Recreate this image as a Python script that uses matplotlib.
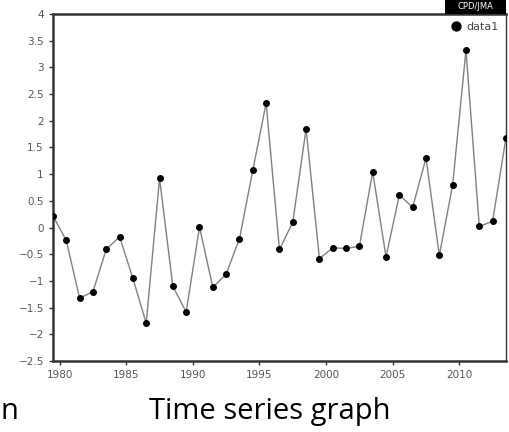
import numpy as np
import matplotlib
matplotlib.use("Agg")
import matplotlib.pyplot as plt
from matplotlib.patches import Rectangle

# yearly values (plotted at mid-year)
years = np.arange(1979, 2014) + 0.5
values = [0.22, -0.24, -1.32, -1.20, -0.41, -0.17, -0.95, -1.79, 0.92, -1.10,
          -1.58, 0.01, -1.12, -0.87, -0.21, 1.07, 2.33, -0.41, 0.10, 1.85,
          -0.58, -0.38, -0.39, -0.35, 1.04, -0.55, 0.61, 0.38, 1.30, -0.52,
          0.80, 3.32, 0.02, 0.12, 1.68]
xticks = [1980, 1985, 1990, 1995, 2000, 2005, 2010]
yticks = [-2.5, -2, -1.5, -1, -0.5, 0, 0.5, 1, 1.5, 2, 2.5, 3, 3.5, 4]

fig = plt.figure(figsize=(5.09, 4.32), dpi=100)
ax = fig.add_axes([0.104, 0.164, 0.890, 0.804])

ax.plot(years, values, color="#808080", lw=1.0, zorder=2)
ax.plot(years, values, "o", color="black", ms=4, label="data1", zorder=3)

ax.set_xlim(1979.5, 2013.5)
ax.set_ylim(-2.5, 4)
ax.set_xticks(xticks)
ax.set_yticks(yticks)
ax.set_yticklabels([f"{t:g}".replace("-", "\u2212") for t in yticks])
ax.tick_params(direction="out", length=3, width=1, colors="#333333",
               labelsize=7.5, labelcolor="#555555")

for side in ["left", "top", "bottom"]:
    ax.spines[side].set_linewidth(1.8)
    ax.spines[side].set_color("#333333")
ax.spines["right"].set_linewidth(1.0)
ax.spines["right"].set_color("#333333")

leg = ax.legend(loc="upper right", frameon=False, fontsize=8, markerscale=1.6,
                handlelength=0.6, handletextpad=0.6, borderaxespad=0.3)
for t in leg.get_texts():
    t.set_color("#444444")

# CPD/JMA tag above the top right corner
fig.patches.append(Rectangle((0.874, 0.968), 0.12, 0.032, transform=fig.transFigure,
                             facecolor="black", edgecolor="none"))
fig.text(0.934, 0.984, "CPD/JMA", color="white", fontsize=6, ha="center",
         va="center")

fig.text(0.53, 0.03, "Time series graph", fontsize=21, ha="center",
         va="baseline", family="Open Sans")
fig.text(0.001, 0.03, "n", fontsize=21, ha="left", va="baseline",
         family="Open Sans")

fig.savefig("out.png", dpi=100)
